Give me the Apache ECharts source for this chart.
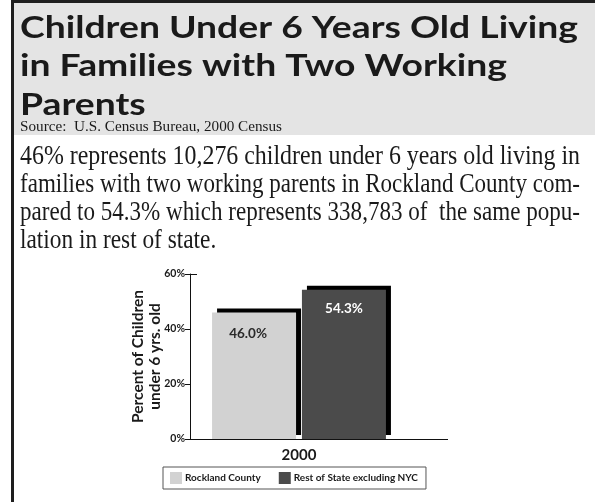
<!DOCTYPE html>
<html><head><meta charset="utf-8">
<script src="https://cdn.jsdelivr.net/npm/echarts@6/dist/echarts.min.js"></script>
<style>html,body{margin:0;padding:0;background:#fff;}#c{width:595px;height:502px;}</style>
</head><body><div id="c"></div>
<script>
const titleLines = ['Children Under 6 Years Old Living', 'in Families with Two Working', 'Parents'];
const sourceText = 'Source:  U.S. Census Bureau, 2000 Census';
const paragraphLines = [
  '46% represents 10,276 children under 6 years old living in',
  'families with two working parents in Rockland County com-',
  'pared to 54.3% which represents 338,783 of  the same popu-',
  'lation in rest of state.'
];
const categories = ['2000'];
const seriesNames = ['Rockland County', 'Rest of State excluding NYC'];
const rocklandValues = [46.0];
const restOfStateValues = [54.3];
const yTicks = [0, 20, 40, 60];

const cv = document.createElement('canvas').getContext('2d');
function measure(text, font) { cv.font = font; return cv.measureText(text).width; }

const titleFont = 'bold 30px Lato';
const titleScale = 558 / measure(titleLines[0], titleFont);
const paraFont = '27.5px "Liberation Serif"';
const paraWidth = 560;

const graphics = [
  { type: 'rect', shape: { x: 14, y: 3, width: 581, height: 132 }, style: { fill: '#e4e4e4' }, silent: true },
  { type: 'rect', shape: { x: 11, y: 0, width: 584, height: 3 }, style: { fill: '#1e1e1e' }, silent: true },
  { type: 'rect', shape: { x: 11, y: 0, width: 3, height: 502 }, style: { fill: '#1e1e1e' }, silent: true }
];
const titleMid = [28, 66.5, 105];
titleLines.forEach((t, i) => {
  graphics.push({ type: 'text', x: 20, y: titleMid[i], scaleX: titleScale,
    style: { text: t, font: titleFont, fill: '#1a1a1a', verticalAlign: 'middle', align: 'left' } });
});
const srcFont = '15px "Liberation Serif"';
graphics.push({ type: 'text', x: 20, y: 127, scaleX: 262 / measure(sourceText, srcFont),
  style: { text: sourceText, font: srcFont, fill: '#1a1a1a', verticalAlign: 'middle', align: 'left' } });
const paraMid = [157, 185, 213, 241];
let scales = paragraphLines.slice(0, 3).map(t => paraWidth / measure(t, paraFont));
const avgScale = scales.reduce((a, b) => a + b, 0) / scales.length;
paragraphLines.forEach((t, i) => {
  const s = i < 3 ? scales[i] : avgScale;
  graphics.push({ type: 'text', x: 20, y: paraMid[i], scaleX: s,
    style: { text: t, font: paraFont, fill: '#1a1a1a', verticalAlign: 'middle', align: 'left' } });
});
// axis extension beyond the category band, and the small top tick
graphics.push({ type: 'line', shape: { x1: 408, y1: 439.5, x2: 448, y2: 439.5 }, style: { stroke: '#111', lineWidth: 1 }, silent: true });
graphics.push({ type: 'line', shape: { x1: 190, y1: 274.5, x2: 197, y2: 274.5 }, style: { stroke: '#111', lineWidth: 1 }, silent: true });

const chart = echarts.init(document.getElementById('c'), null, { renderer: 'canvas' });
const barShadow = { shadowColor: '#000', shadowBlur: 0, shadowOffsetX: 5, shadowOffsetY: -4 };
chart.setOption({
  animation: false,
  textStyle: { fontFamily: 'Lato' },
  grid: { left: 190, right: 187, top: 274, bottom: 63, containLabel: false },
  xAxis: {
    type: 'category', data: categories,
    axisLine: { lineStyle: { color: '#111', width: 1 } },
    axisTick: { inside: true, length: 5, lineStyle: { color: '#111' } },
    axisLabel: { color: '#1a1a1a', fontWeight: 'bold', fontSize: 15, margin: 9 }
  },
  yAxis: {
    type: 'value', min: yTicks[0], max: yTicks[yTicks.length - 1], interval: 20,
    name: 'Percent of Children\nunder 6 yrs. old', nameLocation: 'middle', nameRotate: 90, nameGap: 27,
    nameMoveOverlap: false,
    nameTextStyle: { color: '#1a1a1a', fontWeight: 'bold', fontSize: 15.5, lineHeight: 17 },
    axisLine: { show: true, lineStyle: { color: '#111', width: 1 } },
    axisTick: { show: true, length: 5, lineStyle: { color: '#111' } },
    axisLabel: { formatter: '{value}%', color: '#1a1a1a', fontWeight: 'bold', fontSize: 10.5, margin: 5 },
    splitLine: { show: false }
  },
  legend: {
    left: 163, top: 467, orient: 'horizontal',
    padding: [5, 8, 5, 7], itemGap: 18, itemWidth: 12, itemHeight: 12, icon: 'rect',
    borderColor: '#555', borderWidth: 1, backgroundColor: '#fff',
    textStyle: { color: '#1a1a1a', fontWeight: 'bold', fontSize: 10, padding: [0, 0, 0, -2] },
    data: seriesNames
  },
  series: [
    { name: seriesNames[0], type: 'bar', data: rocklandValues, barWidth: 84, barGap: '7%',
      itemStyle: Object.assign({ color: '#d2d2d2' }, barShadow),
      label: { show: true, position: 'insideTop', distance: 14, offset: [-6, 0], formatter: p => p.value.toFixed(1) + '%',
        color: '#2a2a2a', fontWeight: 'bold', fontSize: 13.5 } },
    { name: seriesNames[1], type: 'bar', data: restOfStateValues, barWidth: 84,
      itemStyle: Object.assign({ color: '#4b4b4b' }, barShadow),
      label: { show: true, position: 'insideTop', distance: 12, formatter: p => p.value.toFixed(1) + '%',
        color: '#ffffff', fontWeight: 'bold', fontSize: 13.5 } }
  ],
  graphic: graphics
});
</script></body></html>
